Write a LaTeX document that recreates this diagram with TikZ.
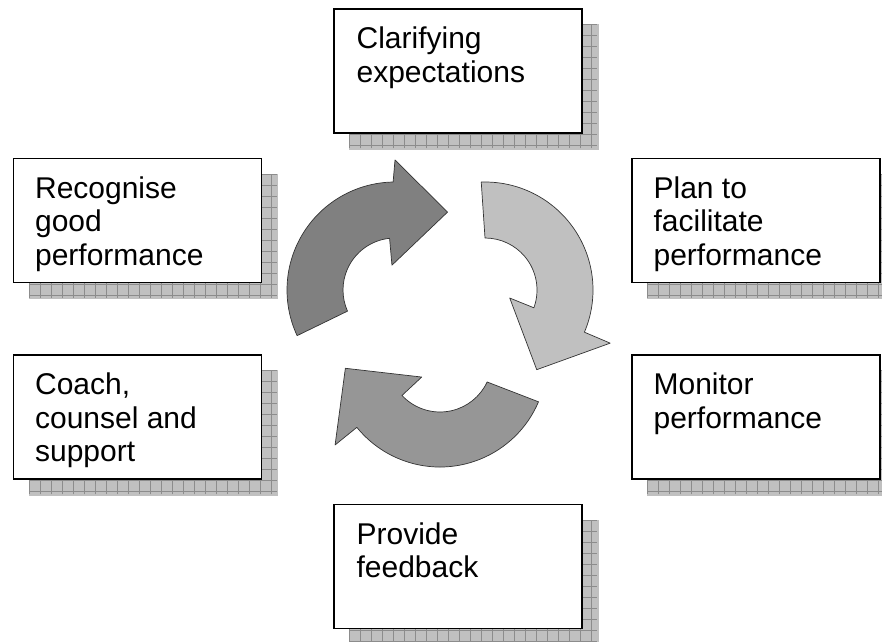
\documentclass[tikz,border=0pt]{standalone}
\usepackage{fontspec}
\setmainfont{Liberation Sans}
\usetikzlibrary{backgrounds}
\newcommand\lnstrut{\rule{0pt}{22pt}}
\definecolor{arrdark}{RGB}{128,128,128}
\definecolor{arrlight}{RGB}{192,192,192}
\definecolor{arrmid}{RGB}{150,150,150}
\definecolor{shadefill}{RGB}{192,192,192}
\definecolor{shadeline}{RGB}{140,140,140}
\begin{document}
\begin{tikzpicture}[x=1pt,y=1pt,
  stagebox/.style={draw=black, fill=white, line width=1.2pt, minimum width=248pt, minimum height=124pt, inner sep=0pt},
  lbl/.style={anchor=north west, align=left, inner sep=0pt, font=\fontsize{30}{33.5}\selectfont},
  shadefillstyle/.style={fill=shadefill},
  shadegrid/.style={draw=shadeline, line width=0.6pt},
  arrowline/.style={draw=black!80, line width=0.7pt, line join=round}]
\useasboundingbox (0,0) rectangle (882,641);

% boxes
\node[stagebox] (clar) at (458,570) {};
\node[stagebox] (rec) at (137.5,420.5) {};
\node[stagebox] (plan) at (756,420.5) {};
\node[stagebox] (coach) at (137.5,224) {};
\node[stagebox] (mon) at (756,224) {};
\node[stagebox] (prov) at (458,74.5) {};

% labels
\node[lbl] (clart) at ([shift={(23,-18)}]clar.north west) {\lnstrut Clarifying\\expectations};
\node[lbl] (rect) at ([shift={(22,-18)}]rec.north west) {\lnstrut Recognise\\good\\performance};
\node[lbl] (plant) at ([shift={(22,-18)}]plan.north west) {\lnstrut Plan to\\facilitate\\performance};
\node[lbl] (coacht) at ([shift={(22,-18)}]coach.north west) {\lnstrut Coach,\\counsel and\\support};
\node[lbl] (mont) at ([shift={(22,-18)}]mon.north west) {\lnstrut Monitor\\performance};
\node[lbl] (provt) at ([shift={(23,-18)}]prov.north west) {\lnstrut Provide\\feedback};

% shadows
\begin{scope}[on background layer]
\foreach \b in {clar,rec,plan,coach,mon,prov}{
  \fill[shadefillstyle] ([shift={(16,-16)}]\b.south west) rectangle ([shift={(16,-16)}]\b.north east);
  \begin{scope}[shift={([shift={(16,-16)}]\b.north west)}]
    \draw[shadegrid, step=11pt] (0,0) grid (248,-124);
  \end{scope}
}
\end{scope}

% circular arrows
\begin{scope}[shift={(395,351)}]
\draw[arrowline, fill=arrdark] (205:108) arc[start angle=205, end angle=91, radius=108]
  -- (90:130) -- (56:94) -- (97:25) -- (96:52) arc[start angle=96, end angle=204, radius=52] -- cycle;
\end{scope}
\begin{scope}[shift={(485,351)}]
\draw[arrowline, fill=arrlight] (92:108) arc[start angle=92, end angle=-23, radius=108]
  -- (-23:136) -- (-57:95) -- (-18:26) -- (-20:52) arc[start angle=-20, end angle=90, radius=52] -- cycle;
\end{scope}
\begin{scope}[shift={(440,281)}]
\draw[arrowline, fill=arrmid] (337:107) arc[start angle=337, end angle=219, radius=107]
  -- (219:135) -- (185:95) -- (223:25) -- (223:52) arc[start angle=223, end angle=335, radius=52] -- cycle;
\end{scope}
\end{tikzpicture}
\end{document}
